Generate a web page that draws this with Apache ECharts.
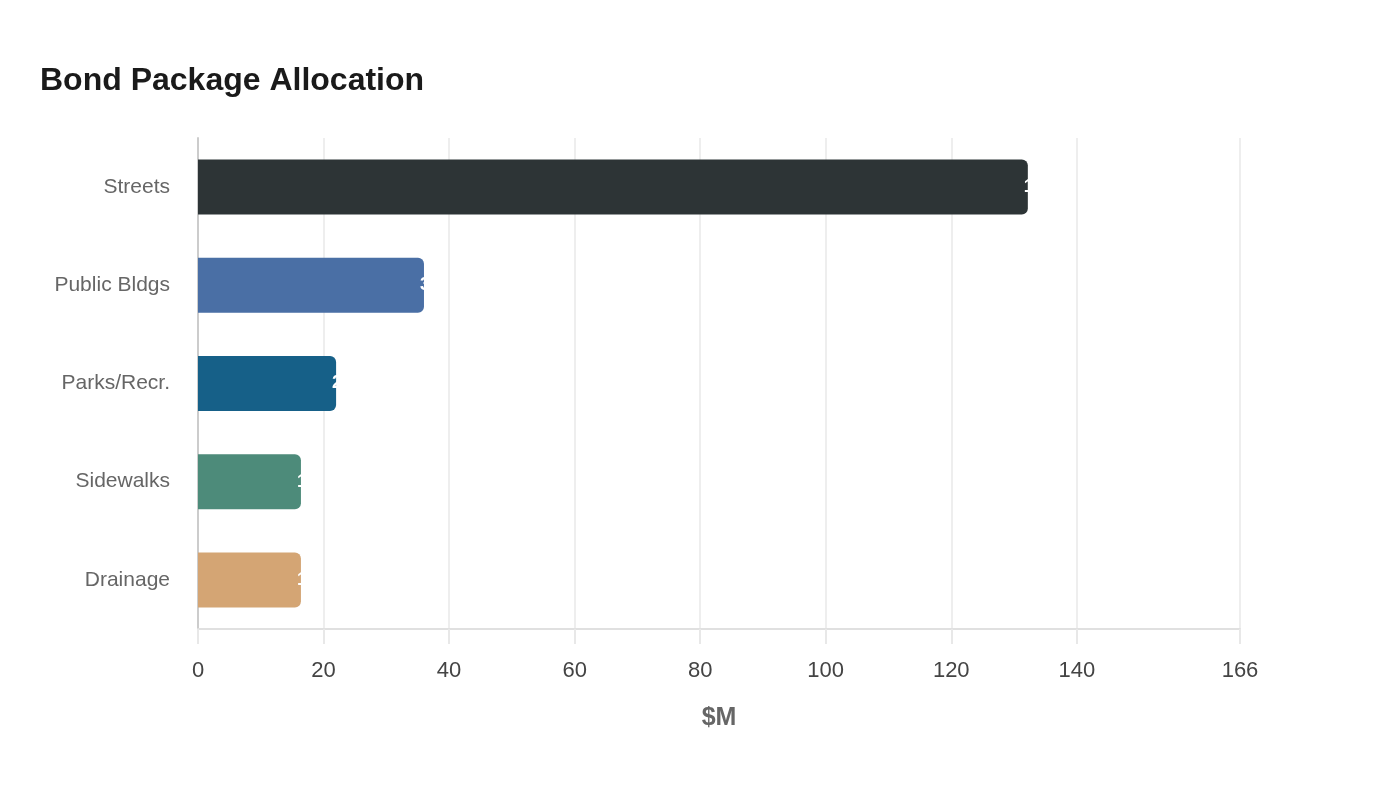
<!DOCTYPE html>
<html>
<head>
<meta charset="utf-8">
<title>Bond Package Allocation</title>
<script src="https://cdn.jsdelivr.net/npm/echarts@6/dist/echarts.min.js"></script>
<style>
html, body { margin: 0; padding: 0; background: #fff; }
#chart { width: 1400px; height: 800px; }
</style>
</head>
<body>
<div id="chart"></div>
<script>
var categories = ["Streets", "Public Bldgs", "Parks/Recr.", "Sidewalks", "Drainage"];
var values = [132.2, 36, 22, 16.4, 16.4];
var colors = ["#2d3436", "#4a6fa5", "#166088", "#4d8b7a", "#d4a574"];
var tickValues = [0, 20, 40, 60, 80, 100, 120, 140, 166];

var font = "Arial, 'Liberation Sans', sans-serif";
var chart = echarts.init(document.getElementById("chart"));

var data = [];
for (var i = 0; i < values.length; i++) {
	data.push({ value: values[i], itemStyle: { color: colors[i] } });
}

chart.setOption({
	animation: false,
	title: {
		text: "Bond Package Allocation",
		left: 35,
		top: 60,
		textStyle: { fontFamily: font, fontSize: 32, fontWeight: "bold", color: "#1a1a1a" }
	},
	grid: { left: 198, right: 160, top: 138, bottom: 171 },
	xAxis: {
		type: "value",
		min: 0,
		max: 166,
		interval: 20,
		name: "$M",
		nameLocation: "middle",
		nameGap: 77,
		nameTextStyle: { fontFamily: font, fontSize: 25, fontWeight: "bold", color: "#666" },
		axisLine: { show: true, lineStyle: { color: "#e0e0e0", width: 2 } },
		axisTick: { show: true, length: 15, customValues: tickValues, lineStyle: { color: "#e8e8e8", width: 2 } },
		axisLabel: { fontFamily: font, fontSize: 22, color: "#444", margin: 31, customValues: tickValues },
		splitLine: { show: true, lineStyle: { color: "#eee", width: 2 } }
	},
	yAxis: {
		type: "category",
		inverse: true,
		data: categories,
		axisLine: { show: true, lineStyle: { color: "#ccc", width: 2 } },
		axisTick: { show: false },
		axisLabel: { fontFamily: font, fontSize: 21, color: "#666", margin: 28, padding: [3, 0, 0, 0] }
	},
	series: [{
		type: "bar",
		data: data,
		barWidth: "56%",
		itemStyle: { borderRadius: [0, 6, 6, 0] },
		label: {
			show: true,
			position: "right",
			distance: -4,
			color: "#fff",
			fontFamily: font,
			fontSize: 18,
			fontWeight: "bold",
			formatter: function(p) { return Math.round(p.value); }
		}
	}]
});
</script>
</body>
</html>
